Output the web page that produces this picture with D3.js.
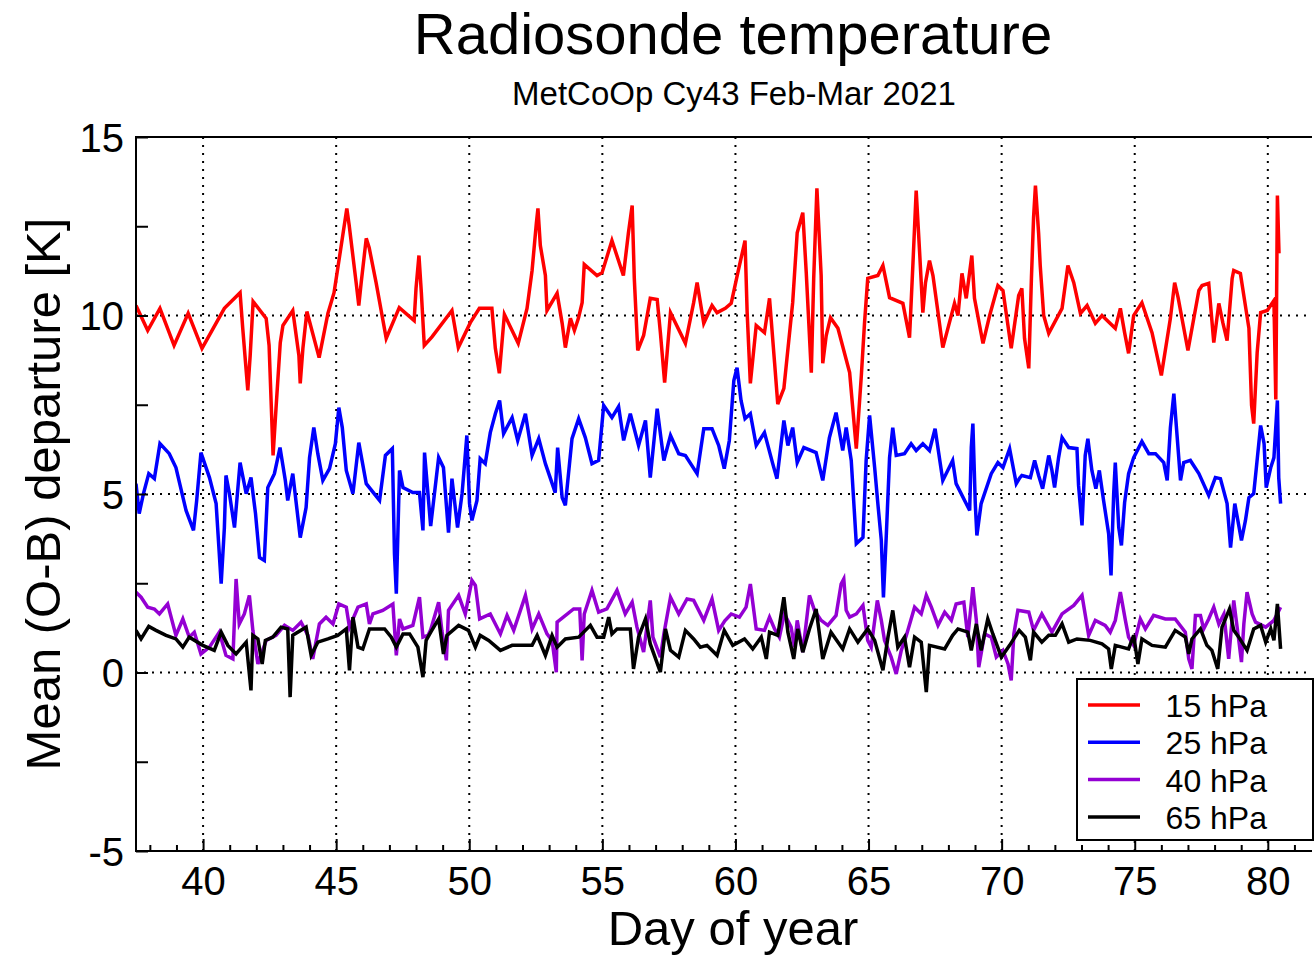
<!DOCTYPE html>
<html><head><meta charset="utf-8">
<script src="https://cdn.jsdelivr.net/npm/d3@7"></script>
<style>body{margin:0;background:#fff}svg{display:block}text{font-family:"Liberation Sans",Arial,Helvetica,sans-serif}</style>
</head><body><svg id="c" width="1315" height="957"></svg>
<script>
const title = "Radiosonde temperature";
const subtitle = "MetCoOp Cy43 Feb-Mar 2021";
const xLabel = "Day of year";
const yLabel = "Mean (O-B) departure [K]";
const xTicks = [40,45,50,55,60,65,70,75,80];
const yTicks = [-5,0,5,10,15];
const seriesNames = ["15 hPa","25 hPa","40 hPa","65 hPa"];
const seriesColors = ["#ff0000","#0000ff","#9400d3","#000000"];

const days15 = [37.48,37.92,38.38,38.91,39.44,39.96,40.8,41.39,41.49,41.68,41.77,41.88,42.37,42.48,42.63,42.74,42.9,43.0,43.37,43.6,43.65,43.75,43.9,44.36,44.69,44.92,45.19,45.4,45.49,45.75,45.85,45.94,46.13,46.24,46.5,46.88,47.37,47.93,48.0,48.11,48.2,48.31,48.6,49.35,49.59,50.04,50.38,50.85,50.98,51.13,51.32,51.84,52.17,52.36,52.52,52.58,52.67,52.86,52.92,53.3,53.49,53.61,53.8,53.95,54.1,54.24,54.32,54.8,54.99,55.36,55.79,55.98,56.12,56.2,56.33,56.55,56.8,57.06,57.18,57.34,57.45,57.56,58.12,58.43,58.56,58.81,59.12,59.31,59.62,59.84,60.09,60.21,60.36,60.44,60.56,60.78,61.09,61.28,61.47,61.59,61.82,62.15,62.32,62.53,62.66,62.85,62.94,63.06,63.22,63.28,63.41,63.57,63.85,64.29,64.54,64.73,64.85,64.97,65.35,65.54,65.79,66.29,66.54,66.67,66.79,66.92,67.04,67.14,67.29,67.42,67.79,68.23,68.36,68.51,68.67,68.88,68.98,69.3,69.55,69.86,70.05,70.36,70.64,70.76,70.86,71.02,71.12,71.2,71.27,71.39,71.45,71.58,71.77,72.27,72.49,72.71,72.96,73.21,73.52,73.77,74.27,74.46,74.62,74.77,74.96,75.27,75.65,76.0,76.34,76.5,76.63,77.0,77.41,77.53,77.78,77.97,78.16,78.31,78.47,78.66,78.72,78.97,79.29,79.39,79.47,79.6,79.73,79.98,80.23,80.3,80.36,80.42];
const t15 = [10.28,9.58,10.2,9.16,10.06,9.08,10.2,10.64,9.64,7.9,8.88,10.39,9.92,9.16,6.08,7.4,9.24,9.72,10.14,8.88,8.1,9.08,10.11,8.82,10.06,10.64,11.96,13.0,12.52,10.92,10.28,10.92,12.16,11.9,10.92,9.36,10.22,9.86,10.76,11.68,10.64,9.16,9.4,10.14,9.1,9.8,10.2,10.2,9.08,8.38,10.03,9.22,10.2,11.26,12.58,13.0,11.96,11.12,10.14,10.62,9.78,9.1,9.92,9.58,9.92,10.36,11.43,11.12,11.2,12.1,11.12,12.32,13.08,11.04,9.02,9.44,10.48,10.45,9.52,8.12,9.1,10.08,9.22,10.36,10.92,9.78,10.28,10.08,10.2,10.34,11.2,11.6,12.1,10.08,8.1,9.72,9.52,10.48,8.68,7.52,7.96,10.36,12.32,12.88,11.2,8.4,11.04,13.56,11.12,8.66,9.44,9.94,9.64,8.4,6.27,8.32,9.8,11.04,11.12,11.4,10.5,10.34,9.38,11.48,13.5,11.76,10.08,10.92,11.54,11.12,9.1,10.34,10.0,11.18,10.48,11.68,10.48,9.22,10.0,10.84,10.7,9.08,10.56,10.76,9.36,8.52,11.06,12.74,13.64,12.3,11.4,10.0,9.5,10.2,11.4,10.92,10.06,10.28,9.78,10.0,9.64,10.2,9.52,8.94,10.0,10.36,9.52,8.32,9.92,10.92,10.5,9.02,10.7,10.84,10.9,9.24,10.34,9.8,9.3,11.04,11.26,11.18,9.64,7.48,6.97,8.96,10.08,10.14,10.42,7.65,13.36,11.74];

const days25 = [37.48,37.6,37.76,37.96,38.17,38.38,38.73,38.98,39.36,39.64,39.76,39.92,40.24,40.49,40.68,40.8,40.86,40.99,41.18,41.39,41.62,41.8,41.97,42.12,42.3,42.43,42.68,42.89,43.09,43.18,43.37,43.65,43.87,44.0,44.16,44.31,44.5,44.75,44.97,45.1,45.23,45.38,45.63,45.85,46.13,46.63,46.85,47.11,47.19,47.26,47.38,47.51,47.88,48.13,48.26,48.32,48.55,48.85,49.03,49.22,49.35,49.56,49.73,49.91,50.01,50.1,50.29,50.41,50.6,50.79,50.98,51.14,51.29,51.61,51.82,52.11,52.36,52.61,52.86,53.23,53.32,53.49,53.61,53.86,54.11,54.36,54.61,54.86,55.05,55.36,55.61,55.8,56.05,56.36,56.62,56.8,57.06,57.31,57.56,57.87,58.12,58.56,58.81,59.12,59.37,59.58,59.77,59.94,60.06,60.21,60.36,60.56,60.78,61.09,61.4,61.56,61.82,61.97,62.15,62.32,62.57,63.03,63.28,63.53,63.78,64.03,64.16,64.35,64.54,64.79,64.91,65.04,65.23,65.35,65.48,65.56,65.67,65.79,65.91,66.04,66.35,66.6,66.79,67.04,67.29,67.5,67.79,68.16,68.29,68.8,68.86,68.92,69.01,69.07,69.23,69.61,69.86,70.05,70.3,70.55,70.68,70.76,71.08,71.24,71.39,71.54,71.67,71.77,71.89,71.99,72.14,72.27,72.52,72.83,72.89,73.02,73.14,73.24,73.39,73.54,73.67,73.83,74.02,74.11,74.21,74.27,74.4,74.5,74.62,74.77,74.96,75.27,75.53,75.78,76.09,76.22,76.34,76.47,76.59,76.72,76.84,77.09,77.41,77.78,78.03,78.22,78.47,78.6,78.76,79.01,79.16,79.29,79.47,79.57,79.73,79.86,79.94,80.11,80.23,80.36,80.41,80.48];
const t25 = [5.29,4.45,5.01,5.57,5.43,6.41,6.13,5.74,4.54,3.98,4.82,6.16,5.46,4.73,2.49,4.06,5.52,5.01,4.06,5.88,5.01,5.46,4.45,3.22,3.14,5.18,5.57,6.3,5.38,4.82,5.57,3.78,4.62,6.02,6.86,6.13,5.38,5.71,6.41,7.42,6.86,5.66,5.01,6.44,5.29,4.82,6.08,6.27,3.33,2.21,5.66,5.18,5.04,5.04,3.98,6.16,4.1,6.02,5.74,3.92,5.43,4.06,5.01,6.64,4.73,4.26,4.82,5.99,5.85,6.72,7.25,7.62,6.69,7.14,6.5,7.25,6.08,6.55,5.85,5.04,6.3,4.9,4.68,6.55,7.11,6.58,5.85,5.94,7.48,7.14,7.45,6.5,7.25,6.36,7.06,5.46,7.39,5.94,6.64,6.13,6.08,5.57,6.83,6.83,6.36,5.71,6.5,8.18,8.54,7.62,7.11,7.25,6.36,6.72,5.85,5.43,7.06,6.36,6.86,5.88,6.3,6.16,5.38,6.58,7.28,6.22,6.86,5.94,3.61,3.78,5.94,7.2,5.74,4.73,3.7,2.1,3.89,6.02,6.86,6.08,6.13,6.41,6.22,6.41,6.22,6.83,5.38,5.94,5.29,4.54,6.3,6.97,4.73,3.84,4.73,5.57,5.88,5.74,6.27,5.29,5.45,5.52,5.46,5.94,5.52,5.15,5.66,6.08,5.66,5.18,6.02,6.58,6.3,6.27,5.24,4.12,6.08,6.55,5.66,5.15,5.66,4.82,3.89,2.72,5.01,5.88,4.06,3.56,4.76,5.57,6.02,6.47,6.13,6.13,5.88,5.38,6.86,7.81,6.64,5.38,5.88,5.94,5.57,4.96,5.46,5.43,4.73,3.5,4.73,3.7,4.26,4.9,5.01,5.74,6.92,6.41,5.18,5.74,6.02,7.62,5.46,4.73];

const days40 = [37.48,37.67,37.92,38.17,38.36,38.67,38.98,39.24,39.48,39.67,39.92,40.24,40.61,40.86,41.12,41.24,41.36,41.55,41.74,41.87,42.06,42.37,42.74,43.06,43.37,43.68,43.94,44.12,44.37,44.62,44.88,45.1,45.38,45.5,45.82,46.13,46.25,46.38,46.75,47.13,47.26,47.38,47.51,47.88,48.13,48.26,48.45,48.55,48.85,48.97,49.14,49.22,49.6,49.85,50.1,50.23,50.39,50.79,51.17,51.42,51.67,52.11,52.36,52.61,52.92,53.11,53.27,53.3,53.92,54.15,54.24,54.32,54.61,54.86,55.17,55.55,55.86,56.12,56.3,56.55,56.8,56.9,57.18,57.31,57.56,57.87,58.18,58.43,58.81,59.12,59.37,59.6,59.84,60.15,60.4,60.56,60.78,61.09,61.28,61.47,61.65,61.84,62.09,62.22,62.32,62.53,62.78,62.97,63.22,63.47,63.78,63.97,64.07,64.16,64.29,64.54,64.79,64.97,65.1,65.33,65.48,65.6,65.85,66.04,66.23,66.42,66.73,66.98,67.17,67.36,67.61,67.86,68.11,68.29,68.58,68.73,68.92,69.05,69.14,69.36,69.61,69.8,70.05,70.24,70.36,70.46,70.61,71.02,71.2,71.51,71.89,72.27,72.71,73.02,73.27,73.52,73.89,74.08,74.27,74.46,74.65,74.77,74.96,75.21,75.4,75.71,76.15,76.52,76.9,77.03,77.15,77.28,77.47,77.59,77.78,77.97,78.16,78.35,78.53,78.72,78.91,79.01,79.1,79.22,79.41,79.54,79.92,80.23,80.48];
const t40 = [2.25,2.11,1.83,1.78,1.64,1.92,1.04,1.5,0.99,1.13,0.52,0.71,1.13,0.48,0.38,2.62,1.36,1.64,2.16,1.18,0.24,0.9,1.04,1.32,1.18,1.41,1.04,0.38,1.36,1.55,1.36,1.92,1.83,1.27,1.83,1.92,1.36,1.64,1.74,1.92,0.48,1.5,1.22,1.32,2.11,0.99,1.04,1.2,1.97,1.18,0.34,1.74,2.16,1.64,2.58,2.44,1.5,1.64,1.08,1.6,1.18,2.16,1.22,1.64,1.08,0.9,0.01,1.41,1.78,1.78,0.34,1.64,2.3,1.69,1.78,2.3,1.64,1.97,1.27,0.57,2.02,0.99,0.43,1.08,2.11,1.64,2.06,2.02,1.46,2.06,1.18,1.45,1.64,1.55,1.83,2.48,1.22,1.18,1.55,1.22,0.99,1.64,1.27,0.71,1.46,0.57,2.16,1.74,1.46,1.32,1.6,2.48,2.62,1.74,1.55,1.64,1.88,0.9,0.71,2.02,1.46,0.9,0.43,-0.04,0.62,1.04,1.83,1.64,2.16,1.83,1.32,1.69,1.46,1.92,1.97,0.99,2.39,1.46,0.15,1.08,0.99,0.43,0.62,0.24,-0.22,1.08,1.74,1.69,1.18,1.64,1.13,1.64,1.88,2.16,1.04,1.46,1.32,1.13,1.46,2.25,1.46,0.99,0.76,1.5,1.22,1.6,1.5,1.5,1.13,0.38,0.1,1.6,1.6,1.22,1.5,1.83,1.36,1.64,0.38,2.02,0.9,0.29,1.36,2.25,1.64,1.41,1.27,1.46,1.83];

const days65 = [37.48,37.67,37.96,38.23,38.61,38.98,39.24,39.48,39.99,40.42,40.68,40.93,41.24,41.62,41.8,41.87,42.06,42.22,42.34,42.62,42.93,43.18,43.27,43.37,43.87,44.06,44.31,44.69,45.06,45.38,45.5,45.63,45.82,46.0,46.25,46.82,47.07,47.26,47.51,47.76,48.07,48.26,48.38,48.57,48.85,49.03,49.16,49.6,49.97,50.23,50.41,50.73,51.17,51.61,51.98,52.36,52.55,52.86,53.11,53.3,53.61,54.11,54.55,54.8,55.05,55.24,55.36,55.55,56.05,56.17,56.36,56.62,56.8,57.18,57.37,57.56,57.87,58.12,58.43,58.68,58.93,59.31,59.58,59.9,60.34,60.65,60.97,61.16,61.28,61.59,61.82,61.97,62.19,62.34,62.53,62.78,63.03,63.28,63.59,64.03,64.29,64.6,64.97,65.23,65.54,65.73,65.91,66.1,66.35,66.54,66.73,66.98,67.17,67.29,67.86,68.16,68.36,68.73,68.86,69.05,69.23,69.48,69.67,69.99,70.3,70.66,70.89,71.08,71.2,71.51,71.77,72.02,72.27,72.52,72.83,73.33,73.77,74.02,74.12,74.27,74.77,74.96,75.12,75.27,75.65,76.15,76.52,76.9,77.03,77.15,77.47,77.71,77.9,78.12,78.28,78.56,78.72,78.91,79.22,79.47,79.73,79.92,80.11,80.23,80.36,80.48];
const t65 = [1.18,0.94,1.29,1.18,1.04,0.94,0.71,0.99,0.76,0.62,1.13,0.76,0.52,0.85,-0.5,1.04,0.94,0.24,0.9,0.99,1.27,1.22,-0.69,1.04,1.27,0.48,0.85,0.94,1.04,1.22,0.06,1.55,0.71,0.66,1.22,1.22,0.99,0.71,1.08,1.08,0.71,-0.13,0.9,1.15,1.5,0.52,1.04,1.32,1.18,0.71,1.04,0.9,0.62,0.76,0.76,0.76,1.04,0.48,1.04,0.71,0.94,0.99,1.32,0.99,0.99,1.55,1.08,1.22,1.22,0.1,0.99,1.5,0.8,0.01,1.22,0.62,0.43,1.18,0.94,0.71,0.76,0.48,1.18,0.76,0.94,0.66,0.99,0.38,1.13,1.04,2.11,1.13,0.38,1.22,0.57,1.22,1.78,0.38,1.13,0.66,1.22,0.85,1.22,0.9,0.06,0.99,1.74,0.71,0.99,0.15,0.99,0.85,-0.55,0.76,0.66,1.04,1.22,1.13,0.62,1.36,0.62,1.5,1.08,0.43,0.76,1.18,0.99,0.34,1.13,0.85,1.04,1.04,1.36,0.85,0.94,0.9,0.8,0.66,0.1,0.76,0.66,1.04,0.24,0.94,0.76,0.71,1.18,0.99,0.52,0.94,1.22,0.76,0.62,0.1,1.27,1.78,1.18,0.99,0.62,1.22,1.32,0.85,1.22,0.9,1.92,0.66];

const svg = d3.select("#c");
const W = 1315, H = 957;
const m = {left:136, right:1312, top:137, bottom:851};
const x = d3.scaleLinear().domain([37.48, 81.66]).range([m.left, m.right]);
const y = d3.scaleLinear().domain([-5, 15]).range([m.bottom, m.top]);

svg.append("rect").attr("width",W).attr("height",H).attr("fill","#fff");

// grid
const grid = svg.append("g").attr("stroke","#000").attr("stroke-width",2).attr("stroke-dasharray","2,6");
grid.selectAll("line.v").data(xTicks).join("line")
  .attr("x1",d=>x(d)).attr("x2",d=>x(d)).attr("y1",m.top).attr("y2",m.bottom);
grid.selectAll("line.h").data([0,5,10]).join("line")
  .attr("x1",m.left).attr("x2",m.right).attr("y1",d=>y(d)).attr("y2",d=>y(d));

// series
const series = [[days15,t15],[days25,t25],[days40,t40],[days65,t65]];
const line = d3.line().x(d=>x(d[0])).y(d=>y(d[1]));
svg.append("clipPath").attr("id","pc").append("rect")
  .attr("x",m.left).attr("y",m.top).attr("width",m.right-m.left).attr("height",m.bottom-m.top);
series.forEach((s,i)=>{
  const pts = s[0].map((d,j)=>[d,s[1][j]]);
  svg.append("path").attr("d",line(pts)).attr("fill","none")
    .attr("stroke",seriesColors[i]).attr("stroke-width",3.5).attr("stroke-linejoin","miter")
    .attr("clip-path","url(#pc)");
});

// axes
const yAxis = d3.axisLeft(y).tickValues(d3.range(-5,15.01,2.5)).tickSize(-12).tickPadding(12)
  .tickFormat(d=> yTicks.includes(d) ? d : "");
const gy = svg.append("g").attr("transform",`translate(${m.left},0)`).call(yAxis);
const xAxis = d3.axisBottom(x).tickValues(d3.range(38,82,1)).tickSize(-12).tickPadding(16)
  .tickFormat(d=> xTicks.includes(d) ? d : "");
const gx = svg.append("g").attr("transform",`translate(0,${m.bottom})`).call(xAxis);
[gx,gy].forEach(g=>{
  g.select(".domain").remove();
  g.selectAll(".tick line").attr("stroke","#000").attr("stroke-width",2);
  g.selectAll(".tick text").attr("font-size",40).attr("fill","#000").attr("font-family","Liberation Sans, Arial, sans-serif");
});
gx.selectAll(".tick line").attr("y2", d=> xTicks.includes(d) ? -12 : -6);
gy.selectAll(".tick line").attr("x2", 12);
gy.selectAll(".tick text").attr("dy","0.36em");
gx.selectAll(".tick text").attr("dy","0.71em");

// frame
svg.append("path").attr("d",`M${m.right},${m.top}H${m.left}V${m.bottom}H${m.right}`)
  .attr("fill","none").attr("stroke","#000").attr("stroke-width",2);

// titles
svg.append("text").attr("x",733).attr("y",54).attr("text-anchor","middle").attr("font-size",58).text(title);
svg.append("text").attr("x",734).attr("y",105).attr("text-anchor","middle").attr("font-size",33).text(subtitle);
svg.append("text").attr("x",733).attr("y",945).attr("text-anchor","middle").attr("font-size",49).text(xLabel);
svg.append("text").attr("transform","translate(60,494) rotate(-90)").attr("text-anchor","middle").attr("font-size",49).text(yLabel);

// legend
const lg = svg.append("g");
lg.append("rect").attr("x",1077).attr("y",679).attr("width",236).attr("height",161)
  .attr("fill","#fff").attr("stroke","#000").attr("stroke-width",2);
seriesNames.forEach((n,i)=>{
  const yy = 705 + i*37.3;
  lg.append("line").attr("x1",1088).attr("x2",1140).attr("y1",yy).attr("y2",yy)
    .attr("stroke",seriesColors[i]).attr("stroke-width",3.5);
  lg.append("text").attr("x",1267).attr("y",yy+12).attr("text-anchor","end").attr("font-size",32).text(n);
});
</script></body></html>
